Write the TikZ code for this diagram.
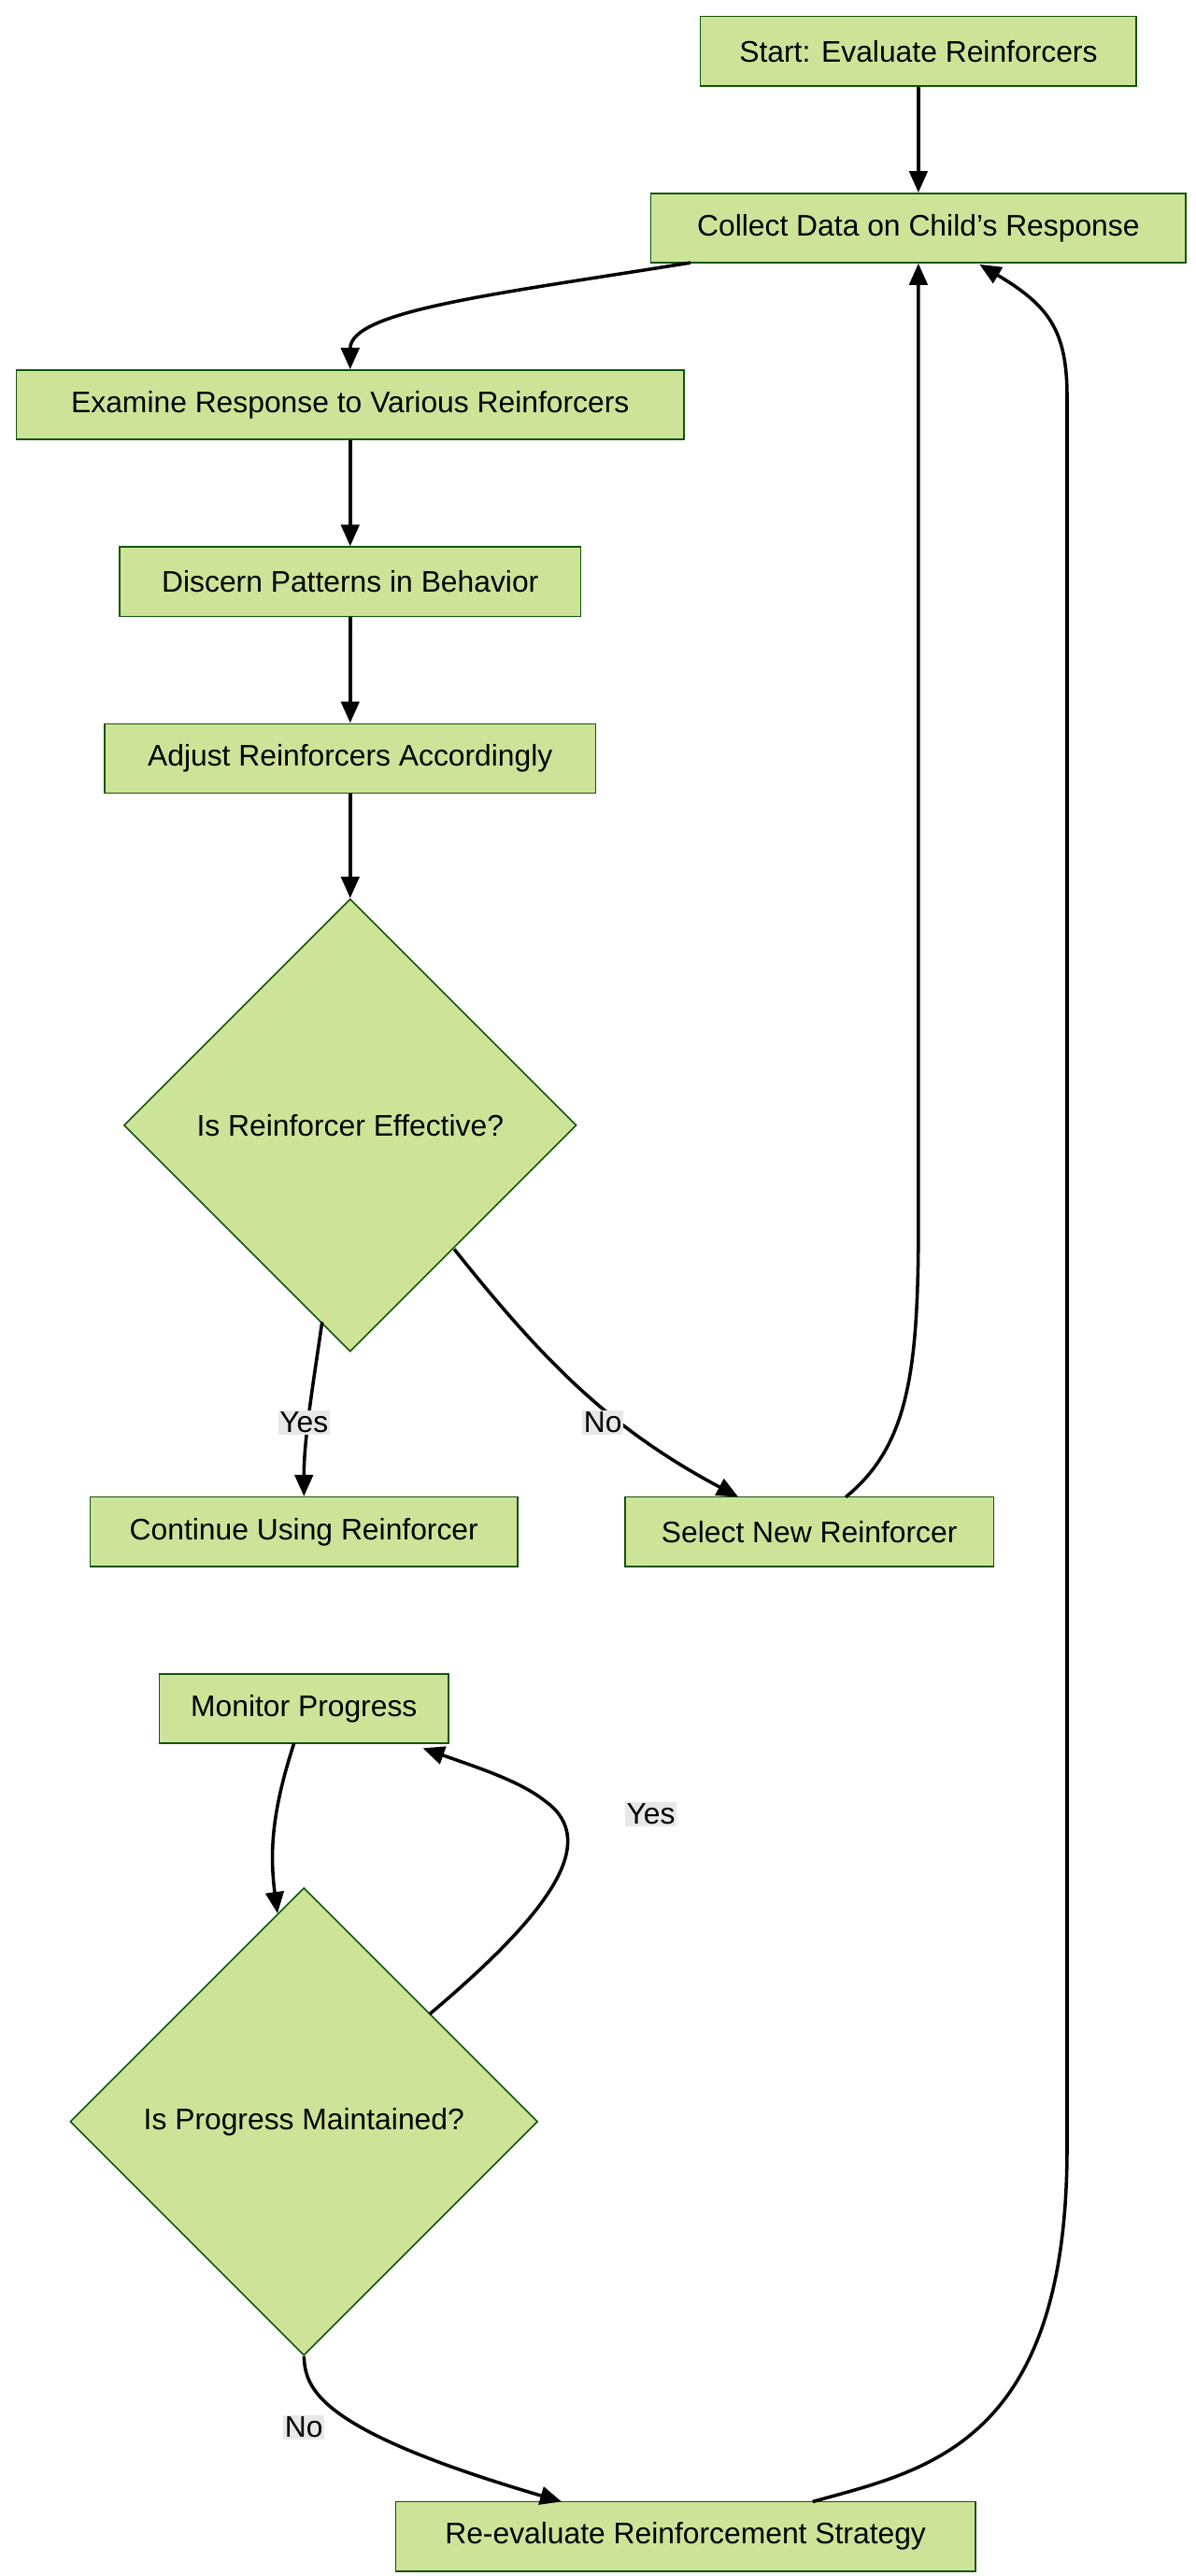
\documentclass[tikz,border=0pt]{standalone}
\usepackage{fontspec}
\setmainfont{Liberation Sans}
\usetikzlibrary{arrows.meta,shapes.geometric}
\definecolor{nfill}{HTML}{CDE498}
\definecolor{nline}{HTML}{13540C}
\definecolor{lblbg}{HTML}{E8E8E8}
\begin{document}
\begin{tikzpicture}[x=1pt,y=-1pt,
  box/.style={draw=nline,fill=nfill,line width=0.9pt,minimum height=42pt,inner sep=0pt,font=\fontsize{18}{20}\selectfont},
  dia/.style={draw=nline,fill=nfill,line width=0.9pt,diamond,aspect=1,inner sep=0pt,font=\fontsize{18}{20}\selectfont},
  edge/.style={line width=2pt,-{Triangle[length=13pt,width=11pt]}},
  lbl/.style={fill=lblbg,inner sep=1pt,font=\fontsize{18}{20}\selectfont}]
\useasboundingbox (0,0) rectangle (724,1559);
\node[box,minimum width=264pt] (start) at (556,31) {Start: Evaluate Reinforcers};
\node[box,minimum width=324pt] (collect) at (556,138) {Collect Data on Child's Response};
\node[box,minimum width=404pt] (examine) at (212,245) {Examine Response to Various Reinforcers};
\node[box,minimum width=279pt] (discern) at (212,352) {Discern Patterns in Behavior};
\node[box,minimum width=297pt] (adjust) at (212,459) {Adjust Reinforcers Accordingly};
\node[dia,minimum width=274pt,minimum height=274pt] (d1) at (212,681) {Is Reinforcer Effective?};
\node[box,minimum width=259pt] (cont) at (184,927) {Continue Using Reinforcer};
\node[box,minimum width=223pt] (select) at (490,927) {Select New Reinforcer};
\node[box,minimum width=175pt] (monitor) at (184,1034) {Monitor Progress};
\node[dia,minimum width=283pt,minimum height=283pt] (d2) at (184,1284) {Is Progress Maintained?};
\node[box,minimum width=351pt] (reeval) at (415,1535) {Re-evaluate Reinforcement Strategy};

\draw[edge] (start) -- (collect);
\draw[edge] (418,159) .. controls (300,178) and (212,188) .. (examine.north);
\draw[edge] (examine) -- (discern);
\draw[edge] (discern) -- (adjust);
\draw[edge] (adjust) -- (d1.north);
\draw[edge] (195,800) .. controls (190,835) and (184,870) .. (cont.north);
\node[lbl] (l1) at (184,861) {Yes};
\draw[edge] (275,756) .. controls (330,825) and (370,865) .. (447,906);
\node[lbl] (l2) at (365,861) {No};
\draw[edge] (512,906) .. controls (550,875) and (556,830) .. (556,740) -- (collect.south);
\draw[edge] (178,1055) .. controls (165,1095) and (163,1120) .. (168,1158);
\draw[edge] (260,1219) .. controls (330,1160) and (365,1115) .. (330,1090) .. controls (315,1078) and (290,1070) .. (256,1058);
\node[lbl] (l3) at (394,1098) {Yes};
\draw[edge] (d2.south) .. controls (185,1445) and (190,1470) .. (340,1514);
\node[lbl] (l4) at (184,1469) {No};
\draw[edge] (492,1514) .. controls (560,1495) and (646,1480) .. (646,1300) -- (646,240) .. controls (646,200) and (635,185) .. (593,160);
\end{tikzpicture}
\end{document}
